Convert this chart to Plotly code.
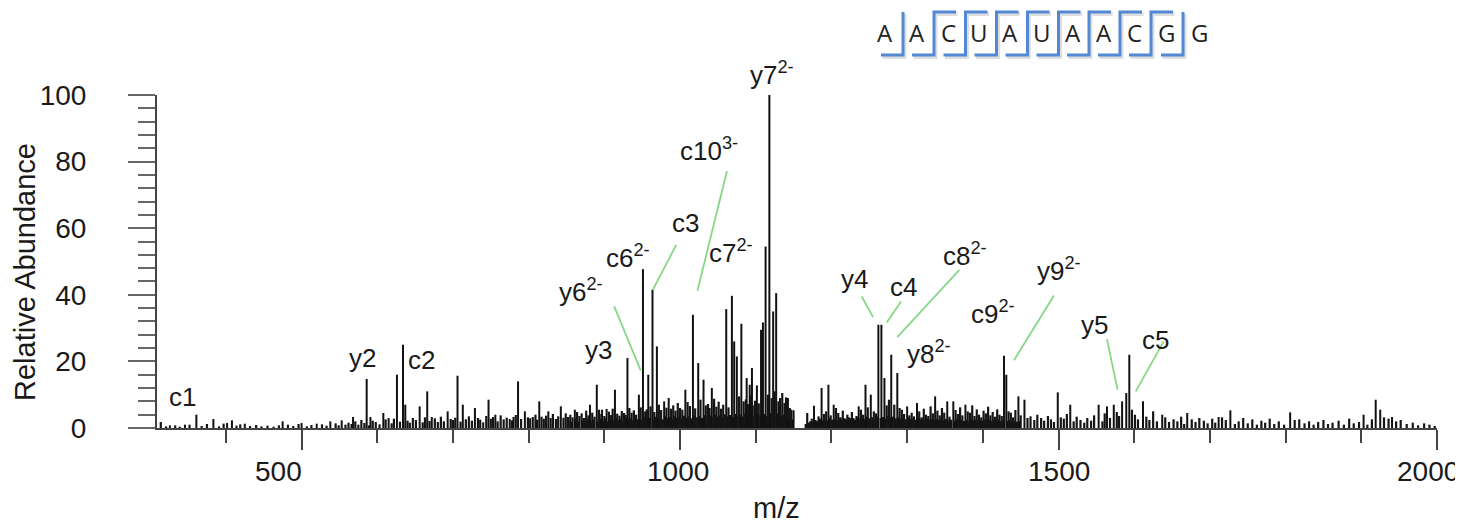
import plotly.graph_objects as go

# ---------------- data ----------------
peak_mz = [326, 346, 361, 383.5, 401.6, 408, 425, 475, 500, 520, 538, 553, 568, 586, 591, 608, 615,
           626, 634, 637, 656, 666, 672, 693, 706, 713, 729, 740, 747, 756, 775, 780, 786, 795, 805.5,
           814, 826, 842.5, 861, 881, 890, 897, 903, 914, 930.5, 945.6, 951, 958, 963.6, 969.4, 979,
           985, 1007, 1017, 1024, 1031, 1042, 1061, 1068.5, 1071.5, 1075, 1081, 1088, 1092, 1095,
           1101.5, 1107, 1109.5, 1113, 1118, 1123, 1127, 1132, 1142.5, 1150, 1177, 1187, 1196, 1203,
           1236, 1245, 1252, 1262, 1266, 1270, 1279, 1287, 1300, 1313, 1337, 1353, 1361, 1377, 1428,
           1431, 1447, 1455, 1499, 1515.5, 1553, 1564, 1573, 1584, 1589.5, 1593.5, 1611.6, 1637, 1670,
           1711.5, 1727, 1806, 1903, 1919, 1925, 1940.6]
peak_int = [0.8, 1.0, 4.0, 2.7, 1.5, 2.3, 1.3, 2.0, 1.5, 1.3, 2.0, 2.3, 3.3, 14.7, 3.3, 4.5, 3.0,
            16.0, 25.0, 7.0, 6.5, 11.0, 3.3, 5.0, 15.7, 7.0, 6.0, 1.7, 8.5, 4.0, 2.7, 3.3, 14.0, 5.0, 3.3,
            8.0, 5.0, 6.5, 5.5, 7.0, 13.0, 5.5, 5.7, 11.5, 21.0, 10.0, 47.7, 16.0, 41.5, 24.5, 8.0,
            9.0, 11.5, 34.0, 19.5, 14.5, 12.0, 35.7, 39.7, 26.0, 21.5, 31.3, 15.0, 13.0, 18.0,
            12.8, 29.5, 31.7, 54.5, 100.0, 35.0, 40.5, 9.0, 9.0, 5.3, 6.7, 12.0, 13.0, 7.0,
            6.5, 13.0, 10.0, 31.0, 31.0, 15.0, 22.0, 16.5, 6.5, 7.5, 9.5, 8.0, 8.0, 7.0, 21.7,
            16.0, 9.5, 8.5, 10.7, 7.0, 7.0, 6.5, 7.0, 8.0, 10.5, 22.0, 8.0, 4.0, 4.5,
            3.3, 5.3, 4.7, 4.0, 8.5, 5.5, 3.3]

noise_mz = [314, 321, 333, 339, 352, 368, 375, 391, 397, 414, 419, 432, 440, 447, 455, 463, 470, 482,
            489, 496, 507, 513, 527, 533, 545, 549, 558,
            562, 566, 571, 575, 579, 583, 589, 594, 598, 603, 611, 619, 622, 630, 640, 643, 647, 651,
            660, 663, 669, 676, 680, 684, 688, 697, 700, 703, 710, 717, 721, 725, 733, 736, 744, 750,
            753, 759, 763, 767, 771, 778, 783, 790, 799, 802, 809, 811, 817, 820, 823, 829, 832, 836,
            839, 846, 849,
            852, 855, 858, 864, 867, 870, 873, 876, 879, 884, 887, 893, 896, 900, 906, 909, 911, 917,
            920, 923, 926, 928, 933, 936, 939, 942, 948, 954, 956, 961, 966, 972, 975, 982, 988, 991,
            994, 997, 1000, 1003, 1010, 1013, 1020, 1027, 1034, 1037, 1039, 1045, 1048, 1051, 1054,
            1057, 1064, 1078, 1084, 1087, 1090, 1093, 1096, 1099, 1104, 1116, 1121, 1125, 1130, 1135,
            1138, 1140, 1145, 1147,
            1168, 1171, 1174, 1180, 1183, 1190, 1193, 1199, 1206, 1209, 1212, 1215, 1218, 1221, 1224,
            1227, 1230, 1233, 1239, 1242, 1248, 1256, 1259, 1273, 1276, 1283, 1290, 1293, 1296, 1303,
            1306, 1309, 1316, 1319, 1322, 1325, 1328, 1331, 1334, 1340, 1343, 1346, 1349, 1356, 1364,
            1367, 1370, 1373, 1380, 1383, 1386, 1389, 1392, 1395, 1398, 1401, 1404, 1407, 1410, 1413,
            1416, 1419, 1422, 1425, 1434, 1437, 1440, 1443, 1450,
            1459, 1463, 1468, 1472, 1477, 1481, 1486, 1490, 1494, 1503, 1507, 1511, 1520, 1524, 1529,
            1534, 1538, 1543, 1547, 1558, 1561, 1568, 1577, 1580, 1597, 1601, 1605, 1616, 1620, 1625,
            1630, 1641, 1646,
            1652, 1657, 1662, 1666, 1676, 1681, 1686, 1692, 1697, 1703, 1707, 1716, 1721, 1733, 1738,
            1744, 1750, 1756, 1762, 1768, 1773, 1779, 1785, 1791, 1798, 1812, 1818, 1825, 1831, 1837,
            1843, 1850, 1856, 1862, 1870, 1877, 1884, 1890, 1897, 1908, 1914, 1930, 1936, 1946, 1952,
            1960, 1968, 1975, 1983, 1990, 1997]
noise_int = [0.5, 0.8, 0.4, 1.0, 0.6, 1.2, 0.5, 1.3, 0.7, 1.1, 0.6, 0.9, 0.5, 0.7, 0.4, 0.8, 1.0, 0.6,
             1.2, 0.5, 0.9, 1.1, 0.7, 1.4, 0.8, 1.0, 1.6,
             1.2, 2.0, 1.0, 2.4, 1.5, 0.8, 2.2, 1.8, 1.1, 2.6, 1.4, 2.8, 1.9, 2.2, 1.6, 3.0, 2.4, 1.7,
             3.2, 2.1, 2.9, 1.8, 3.4, 2.0, 2.7, 2.4, 3.1, 1.9, 2.6, 3.5, 2.2, 3.0, 2.5, 3.6, 2.8, 3.3,
             2.0, 3.8, 2.6, 3.1, 2.3, 3.9, 2.7, 3.2, 2.9, 4.0, 2.5, 3.4, 2.8, 3.7, 3.0, 4.2, 2.7, 3.5,
             3.1, 4.4, 3.3,
             4.0, 3.2, 4.8, 3.6, 4.4, 3.0, 5.2, 3.8, 4.6, 3.4, 5.5, 4.2, 3.6, 4.9, 3.9, 5.8, 4.3, 3.7,
             5.1, 4.5, 3.9, 6.0, 4.6, 5.3, 4.0, 6.2, 5.0, 5.6, 6.5, 4.8, 7.0, 5.4, 6.1, 5.8, 6.8, 5.2,
             7.5, 6.0, 5.5, 7.8, 6.6, 5.9, 8.5, 6.8, 7.2, 6.0, 8.8, 6.4, 7.9, 5.8, 7.0,
             6.2, 9.5, 8.0, 8.6, 7.2, 9.8, 6.8, 8.2, 7.4, 10.0, 9.0, 11.0, 8.0, 10.5, 7.5,
             9.2, 6.0, 5.5, 4.5,
             1.5, 2.8, 2.0, 3.5, 4.2, 5.0, 3.8, 6.0, 4.5, 3.2, 5.2, 2.8, 4.0, 3.0, 4.8,
             2.5, 3.6, 5.5, 4.0, 6.2, 5.0, 4.4, 6.8, 8.5, 7.0, 6.0, 5.5, 4.2, 3.8, 4.6,
             3.5, 5.0, 3.2, 5.8, 4.0, 3.6, 6.5, 4.4, 5.2, 3.8, 6.0, 4.6, 3.4, 5.4, 4.2,
             6.2, 3.8, 5.0, 4.6, 6.8, 3.6, 5.6, 4.0, 3.2, 5.2, 4.4, 6.4, 3.8, 4.8, 3.4,
             5.6, 4.0, 3.6, 5.0, 4.6, 3.2, 5.4, 3.8, 3.0,
             3.5, 2.4, 4.0, 3.0, 2.2, 3.6, 2.6, 1.8, 3.2, 2.8, 4.2, 2.0, 3.4, 2.4, 1.6,
             3.0, 2.2, 3.8, 2.0, 4.4, 3.0, 4.8, 3.6, 5.5, 4.0, 2.6, 3.4, 2.4, 5.0, 2.0,
             3.2, 1.8, 2.6,
             2.0, 3.4, 1.2, 2.6, 1.8, 3.0, 2.2, 1.4, 2.8, 1.6, 3.2, 2.4, 1.2, 2.0, 3.0,
             1.4, 2.6, 1.0, 2.2, 1.6, 2.8, 1.2, 2.0, 1.0, 2.4, 2.6, 1.4, 2.0, 1.0, 1.8,
             2.4, 1.2, 1.6, 2.2, 1.0, 2.8, 1.4, 1.8, 1.0, 2.6, 3.2, 2.8, 2.0, 2.4, 1.2,
             1.6, 0.8, 1.4, 1.0, 0.6, 1.2]

# low baseline "grass" filling the busiest regions
base_mz = [852.5, 857, 861.5, 866, 871.5, 875, 878, 882, 886, 890.5, 895, 898.5, 902, 905, 908, 913,
           916, 919, 922, 925, 930, 932, 935, 938, 941, 944, 947, 950, 953, 957, 960, 964, 968, 970,
           974, 977, 980, 984, 986, 990, 993, 996, 999, 1002, 1005, 1009, 1012, 1015, 1019, 1022,
           1026, 1029, 1033, 1036, 1041, 1044, 1047, 1050, 1053, 1056, 1059, 1063, 1066, 1070, 1073,
           1077, 1080, 1083, 1086, 1089, 1094, 1098, 1102, 1106, 1111, 1115, 1120, 1124, 1129, 1134,
           1137, 1141, 1144, 1149,
           1166, 1169, 1172, 1176, 1179, 1182, 1185, 1189, 1192, 1195, 1198, 1201, 1205, 1208, 1211,
           1214, 1217, 1220, 1223, 1226, 1229, 1232, 1235, 1238, 1241, 1244, 1247, 1250, 1254, 1258,
           1261, 1265, 1268, 1272, 1275, 1278, 1281, 1285, 1289, 1292, 1295, 1298, 1302, 1305, 1308,
           1311, 1315, 1318, 1321, 1324, 1327, 1330, 1333, 1336, 1339, 1342, 1345, 1348, 1351, 1355,
           1358, 1363, 1366, 1369, 1372, 1375, 1379, 1382, 1385, 1388, 1391, 1394, 1397, 1400, 1403,
           1406, 1409, 1412, 1415, 1418, 1421, 1424, 1427, 1433, 1436, 1439, 1442, 1445, 1449]
base_int = [2.2, 1.8, 2.6, 1.9, 2.4, 2.0, 2.8, 2.1, 2.5, 1.9, 2.7, 2.2, 2.9, 2.0, 2.6, 2.3,
            3.0, 2.4, 2.8, 2.2, 3.1, 2.5, 2.9, 2.3, 3.2, 2.6, 3.0, 2.4, 3.3, 2.7, 3.1, 2.5, 3.4, 2.8,
            3.2, 2.6, 3.5, 2.9, 3.3, 2.7, 3.6, 3.0, 3.4, 2.8, 3.7, 3.1, 3.5, 2.9, 3.8, 3.2,
            3.6, 3.0, 3.9, 3.3, 3.7, 3.1, 4.0, 3.4, 3.8, 3.2, 4.1, 3.5, 3.9, 3.3, 4.2,
            3.6, 4.0, 3.4, 4.3, 3.7, 4.1, 3.5, 4.4, 3.8, 4.2, 3.6, 4.5, 3.9, 4.3, 3.7,
            4.0, 3.4, 3.0, 2.6,
            1.2, 1.6, 2.0, 1.8, 2.4, 2.1, 2.8, 2.3, 2.6, 2.2, 3.0, 2.5, 2.8, 2.3, 3.1,
            2.6, 2.9, 2.4, 3.2, 2.7, 3.0, 2.5, 3.3, 2.8, 3.1, 2.6, 3.4, 2.9, 3.2, 2.7,
            3.5, 3.0, 3.3, 2.8, 3.6, 3.1, 3.4, 2.9, 3.2, 2.8, 3.0, 2.6, 3.1, 2.7, 2.9,
            2.5, 3.0, 2.6, 2.8, 2.4, 2.9, 2.5, 2.7, 2.3, 2.8, 2.4, 2.6, 2.2, 2.7, 2.3,
            2.5, 2.2, 2.6, 2.3, 2.5, 2.1, 2.4, 2.2, 2.6, 2.3, 2.5, 2.1, 2.4, 2.2, 2.6,
            2.3, 2.5, 2.1, 2.4, 2.2, 2.5, 2.0, 2.3, 2.1, 2.4, 2.0, 2.2, 1.9, 2.1, 1.8]

ion_names = ["c1", "y2", "c2", "y3", "y6", "c6", "c3", "c10", "c7", "y7",
             "y4", "c4", "c8", "y8", "c9", "y9", "y5", "c5"]
ion_charges = ["", "", "", "", "2-", "2-", "", "3-", "2-", "2-",
               "", "", "2-", "2-", "2-", "2-", "", ""]
label_mz = [343, 581, 659, 892, 869, 931, 1007, 1038, 1067, 1122,
            1230, 1295, 1377, 1329, 1414, 1500, 1548, 1628]
label_int = [9.4, 21.1, 20.5, 23.5, 41.2, 51.4, 61.6, 83.5, 52.9, 106.6,
             44.8, 42.4, 52.0, 22.6, 34.6, 47.5, 31.0, 26.5]

leader_from_mz = [913, 995, 1062, 1240, 1292, 1369, 1494, 1564, 1639]
leader_from_int = [36.5, 55.0, 77.2, 39.5, 38.0, 47.5, 39.8, 26.7, 26.0]
leader_to_mz = [948, 964, 1023, 1255, 1273, 1287, 1441, 1578, 1602]
leader_to_int = [17.3, 41.5, 41.2, 33.3, 31.7, 27.3, 20.3, 11.5, 11.0]

sequence = ["A", "A", "C", "U", "A", "U", "A", "A", "C", "G", "G"]

x_ticks = [500, 1000, 1500, 2000]
y_ticks = [0, 20, 40, 60, 80, 100]
x_range = [309, 2000]
y_range = [0, 100]

# ---------------- layout geometry (page pixels) ----------------
PAGE_OFF = 8                      # default body margin of the html page
W, H = 1463 - PAGE_OFF, 527 - PAGE_OFF
PL, PR, PT, PB = 157, 1437, 95, 428   # plot area on the page
L, T = PL - PAGE_OFF, PT - PAGE_OFF
R, B = W - (PR - PAGE_OFF), H - (PB - PAGE_OFF)


def px2paper(px, py):
    return (px - PL) / (PR - PL), (PB - py) / (PB - PT)


def sticks(mz, inten):
    xs, ys = [], []
    for m, h in zip(mz, inten):
        xs += [m, m, None]
        ys += [0, h, None]
    return xs, ys


fig = go.Figure()
bx, by = sticks(base_mz + noise_mz, base_int + noise_int)
fig.add_trace(go.Scatter(x=bx, y=by, mode="lines", line=dict(color="#151515", width=2.2),
                         hoverinfo="skip", showlegend=False, cliponaxis=False))
sx_, sy_ = sticks(peak_mz, peak_int)
fig.add_trace(go.Scatter(x=sx_, y=sy_, mode="lines", line=dict(color="#111111", width=2.0),
                         hoverinfo="skip", showlegend=False, cliponaxis=False))

font_family = "Liberation Sans, Arial, sans-serif"
txt_col = "#1a1a1a"
annotations = []
y_span = y_range[1] - y_range[0]
for name, ch, m, h in zip(ion_names, ion_charges, label_mz, label_int):
    txt = name if not ch else f"{name}<sup>{ch}</sup>"
    annotations.append(dict(x=m, y=(h - y_range[0]) / y_span, xref="x", yref="paper", text=txt,
                            showarrow=False, xanchor="center", yanchor="middle",
                            font=dict(family=font_family, size=26, color=txt_col)))

shapes = []
for x0, y0, x1, y1 in zip(leader_from_mz, leader_from_int, leader_to_mz, leader_to_int):
    shapes.append(dict(type="line", xref="x", yref="y", x0=x0, y0=y0, x1=x1, y1=y1,
                       line=dict(color="#86d886", width=1.8)))

# x tick labels (the 500 label sits left of its tick in the original)
x_label_shift = [-23, -2, 0, -9]
for v, sh in zip(x_ticks, x_label_shift):
    _, ty = px2paper(0, 471)
    annotations.append(dict(x=v, y=ty, xref="x", yref="paper", text=str(v), showarrow=False,
                            xanchor="center", yanchor="middle", xshift=sh,
                            font=dict(family=font_family, size=28, color=txt_col)))

# sequence with cleavage brackets
letter_px = [885, 916.5, 948, 979, 1010, 1041.5, 1072.5, 1103.5, 1134.5, 1166, 1199]
for s, lx in zip(sequence, letter_px):
    qx, qy = px2paper(lx, 33)
    annotations.append(dict(x=qx, y=qy, xref="paper", yref="paper", text=s, showarrow=False,
                            xanchor="center", yanchor="middle",
                            font=dict(family="Open Sans, sans-serif", size=24, color="#222222")))

sep_px = [903, 934, 965.5, 996.5, 1027.5, 1058.5, 1089, 1120, 1151, 1183]
top_y, bot_y, hook = 12, 55, 22
blue = "#5288d4"
for i, sxp in enumerate(sep_px):
    pts = []
    if 0 < i < len(sep_px) - 1:
        pts.append((sxp + hook, top_y))
    pts += [(sxp, top_y), (sxp, bot_y), (sxp - hook, bot_y)]
    for off, col, wdt in [((1.5, 2.0), "rgba(0,0,0,0.13)", 4), ((0, 0), blue, 3)]:
        path = ""
        for k, (ax, ay) in enumerate(pts):
            qx, qy = px2paper(ax + off[0], ay + off[1])
            path += ("M" if k == 0 else "L") + f"{qx:.5f},{qy:.5f} "
        shapes.append(dict(type="path", xref="paper", yref="paper", path=path,
                           line=dict(color=col, width=wdt)))

# axis titles
tx, ty = px2paper(25, 272)
annotations.append(dict(x=tx, y=ty, xref="paper", yref="paper", text="Relative Abundance",
                        textangle=-90, showarrow=False, xanchor="center", yanchor="middle",
                        font=dict(family=font_family, size=29, color=txt_col)))
tx, ty = px2paper(776, 508)
annotations.append(dict(x=tx, y=ty, xref="paper", yref="paper", text="m/z", showarrow=False,
                        xanchor="center", yanchor="middle",
                        font=dict(family=font_family, size=29, color=txt_col)))

axis_col = "#444444"
fig.update_layout(
    width=W, height=H,
    margin=dict(l=L, r=R, t=T, b=B, pad=0, autoexpand=False),
    paper_bgcolor="white", plot_bgcolor="white",
    showlegend=False,
    annotations=annotations, shapes=shapes,
    xaxis=dict(range=x_range, showgrid=False, zeroline=False, showline=True,
               linecolor=axis_col, linewidth=2, ticks="outside", ticklen=20, tickwidth=1.5,
               tickcolor=axis_col, tickvals=x_ticks, showticklabels=False,
               minor=dict(dtick=100, tick0=0, ticks="outside", ticklen=13, tickwidth=1.5,
                          tickcolor=axis_col, showgrid=False)),
    yaxis=dict(range=y_range, showgrid=False, zeroline=False, showline=True,
               linecolor=axis_col, linewidth=2, ticks="outside", ticklen=27, tickwidth=2,
               tickcolor="#666666", tickvals=y_ticks,
               minor=dict(dtick=4, tick0=0, ticks="outside", ticklen=17, tickwidth=2,
                          tickcolor="#666666", showgrid=False),
               tickfont=dict(family=font_family, size=28, color=txt_col),
               ticklabelstandoff=36),
)

fig.write_html("out.html")
